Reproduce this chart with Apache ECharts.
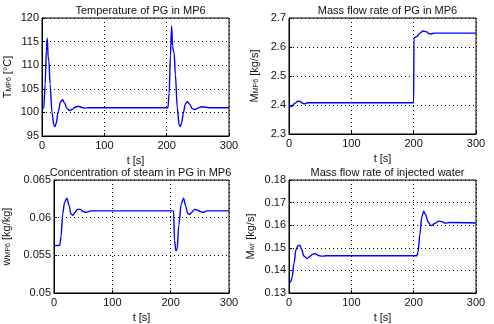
<!DOCTYPE html>
<html>
<head>
<meta charset="utf-8">
<script src="https://cdn.jsdelivr.net/npm/echarts@6/dist/echarts.min.js"></script>
<style>
html, body { margin: 0; padding: 0; background: #fff; }
#chart { width: 494px; height: 324px; }
</style>
</head>
<body>
<div id="chart"></div>
<script>
// data
const titles = ['Temperature of PG in MP6', 'Mass flow rate of PG in MP6',
    'Concentration of steam in PG in MP6', 'Mass flow rate of injected water'];

const tempTime = [0, 3, 5, 7, 8.5, 10, 11, 13, 16, 19, 21, 23, 26, 30, 33, 36, 40, 44, 48, 53, 58, 63, 68, 75,
    202, 204, 206, 208, 209.5, 211, 212, 214, 217, 220, 222, 224, 227, 230, 233, 237, 241, 245, 250, 256, 262, 270, 300];
const tempPG = [101, 101, 106, 113, 115.7, 111.5, 111, 106, 100, 97.3, 97, 97.8, 100.2, 102.3, 102.7, 102, 100.8, 100.4, 100.6, 101.1, 101.3, 101.1, 100.9, 101,
    101, 104, 112, 118.3, 114, 113, 112.5, 108, 101, 97.3, 97, 97.8, 100, 101.8, 102.3, 101.7, 100.8, 100.6, 100.9, 101.2, 101.1, 101, 101];

const flowTime = [0, 4, 9, 14, 18, 22, 25, 30, 200, 200.5, 205, 210, 215, 220, 225, 228, 233, 300];
const flowPG = [2.398, 2.395, 2.405, 2.413, 2.412, 2.406, 2.404, 2.408, 2.408, 2.632, 2.636, 2.648, 2.655, 2.653, 2.646, 2.645, 2.648, 2.648];

const steamTime = [0, 10, 12, 15, 18, 22, 26, 29, 32, 36, 40, 45, 50, 55, 63, 205, 206.5, 209, 211, 214, 218, 222, 226, 229, 232, 236, 241, 246, 251, 256, 262, 300];
const steamPG = [0.0563, 0.0563, 0.0575, 0.0605, 0.0620, 0.0626, 0.0616, 0.0605, 0.0603, 0.0607, 0.0611, 0.0611, 0.0608, 0.0607, 0.0609,
    0.0609, 0.0570, 0.0556, 0.0558, 0.0590, 0.0618, 0.0626, 0.0615, 0.0606, 0.0604, 0.0607, 0.0611, 0.0610, 0.0608, 0.0607, 0.0609, 0.0609];

const waterTime = [0, 3, 5, 8, 11, 14, 17, 20, 24, 29, 34, 38, 42, 47, 53, 60, 205, 207, 210, 213, 216, 219, 223, 228, 234, 240, 245, 251, 258, 300];
const waterFlow = [0.1347, 0.135, 0.137, 0.143, 0.149, 0.1508, 0.1512, 0.1495, 0.1463, 0.1452, 0.1463, 0.1472, 0.1474, 0.1466, 0.1463, 0.1465,
    0.1465, 0.148, 0.156, 0.1635, 0.1662, 0.1648, 0.1615, 0.1598, 0.1608, 0.1618, 0.1616, 0.1609, 0.1612, 0.161];

const yMins = [95, 2.3, 0.05, 0.13];
const yMaxs = [120, 2.7, 0.065, 0.18];
const yStep = [5, 0.1, 0.005, 0.01];
const yNames = [['T', 'MP6', ' [°C]'], ['M', 'MP6', ' [kg/s]'], ['w', 'MP6', ' [kg/kg]'], ['M', 'wr', ' [kg/s]']];

const chart = echarts.init(document.getElementById('chart'));
const font = 'Liberation Sans, Arial, sans-serif';

const grids = [
    { left: 42, right: 265, top: 18, height: 118 },
    { left: 289, right: 18, top: 18, height: 116 },
    { left: 42, right: 265, top: 180, height: 117 },
    { left: 289, right: 18, top: 180, height: 117 }
];
const nameGaps = [29, 29, 42, 33];
const series = [[tempTime, tempPG], [flowTime, flowPG], [steamTime, steamPG], [waterTime, waterFlow]];

const dotted = { show: true, lineStyle: { color: '#000', type: [1, 3], width: 1 } };

option = {
    backgroundColor: '#fff',
    animation: false,
    title: titles.map(function (t, i) {
        return {
            text: t,
            left: grids[i].left + (494 - grids[i].left - grids[i].right) / 2,
            textAlign: 'center',
            top: grids[i].top - 18,
            textStyle: { fontFamily: font, fontSize: 11, fontWeight: 'normal', color: '#111' }
        };
    }),
    grid: grids.map(function (g) {
        return Object.assign({ show: true, borderColor: '#000', borderWidth: 1, backgroundColor: '#fff' }, g);
    }),
    xAxis: grids.map(function (g, i) {
        return {
            type: 'value', gridIndex: i, min: 0, max: 300, interval: 100,
            name: 't [s]', nameLocation: 'middle', nameGap: 19,
            nameTextStyle: { fontFamily: font, fontSize: 11, color: '#111' },
            axisLine: { show: true, lineStyle: { color: '#000' } },
            axisTick: { show: true, inside: true, length: 3, lineStyle: { color: '#000' } },
            axisLabel: { fontFamily: font, fontSize: 11, color: '#111', margin: 4 },
            splitLine: dotted
        };
    }),
    yAxis: grids.map(function (g, i) {
        const n = yNames[i];
        return {
            type: 'value', gridIndex: i, min: yMins[i], max: yMaxs[i], interval: yStep[i],
            name: '{a|' + n[0] + '}{s|' + n[1] + '}{a|' + n[2] + '}',
            nameLocation: 'middle', nameGap: nameGaps[i], nameRotate: 90,
            nameTextStyle: {
                rich: {
                    a: { fontFamily: font, fontSize: 11, color: '#111', lineHeight: 16, verticalAlign: 'bottom' },
                    s: { fontFamily: font, fontSize: 7, color: '#111', lineHeight: 10, verticalAlign: 'bottom' }
                }
            },
            axisLine: { show: true, lineStyle: { color: '#000' } },
            axisTick: { show: true, inside: true, length: 3, lineStyle: { color: '#000' } },
            axisLabel: {
                fontFamily: font, fontSize: 11, color: '#111', margin: 3,
                formatter: function (v) { return String(+v.toFixed(3)); }
            },
            splitLine: dotted
        };
    }),
    series: series.map(function (s, i) {
        return {
            type: 'line', xAxisIndex: i, yAxisIndex: i,
            data: s[0].map(function (t, k) { return [t, s[1][k]]; }),
            showSymbol: false, smooth: 0.3, smoothMonotone: 'x',
            lineStyle: { color: '#0000ff', width: 1.4 }
        };
    })
};

chart.setOption(option);
</script>
</body>
</html>
